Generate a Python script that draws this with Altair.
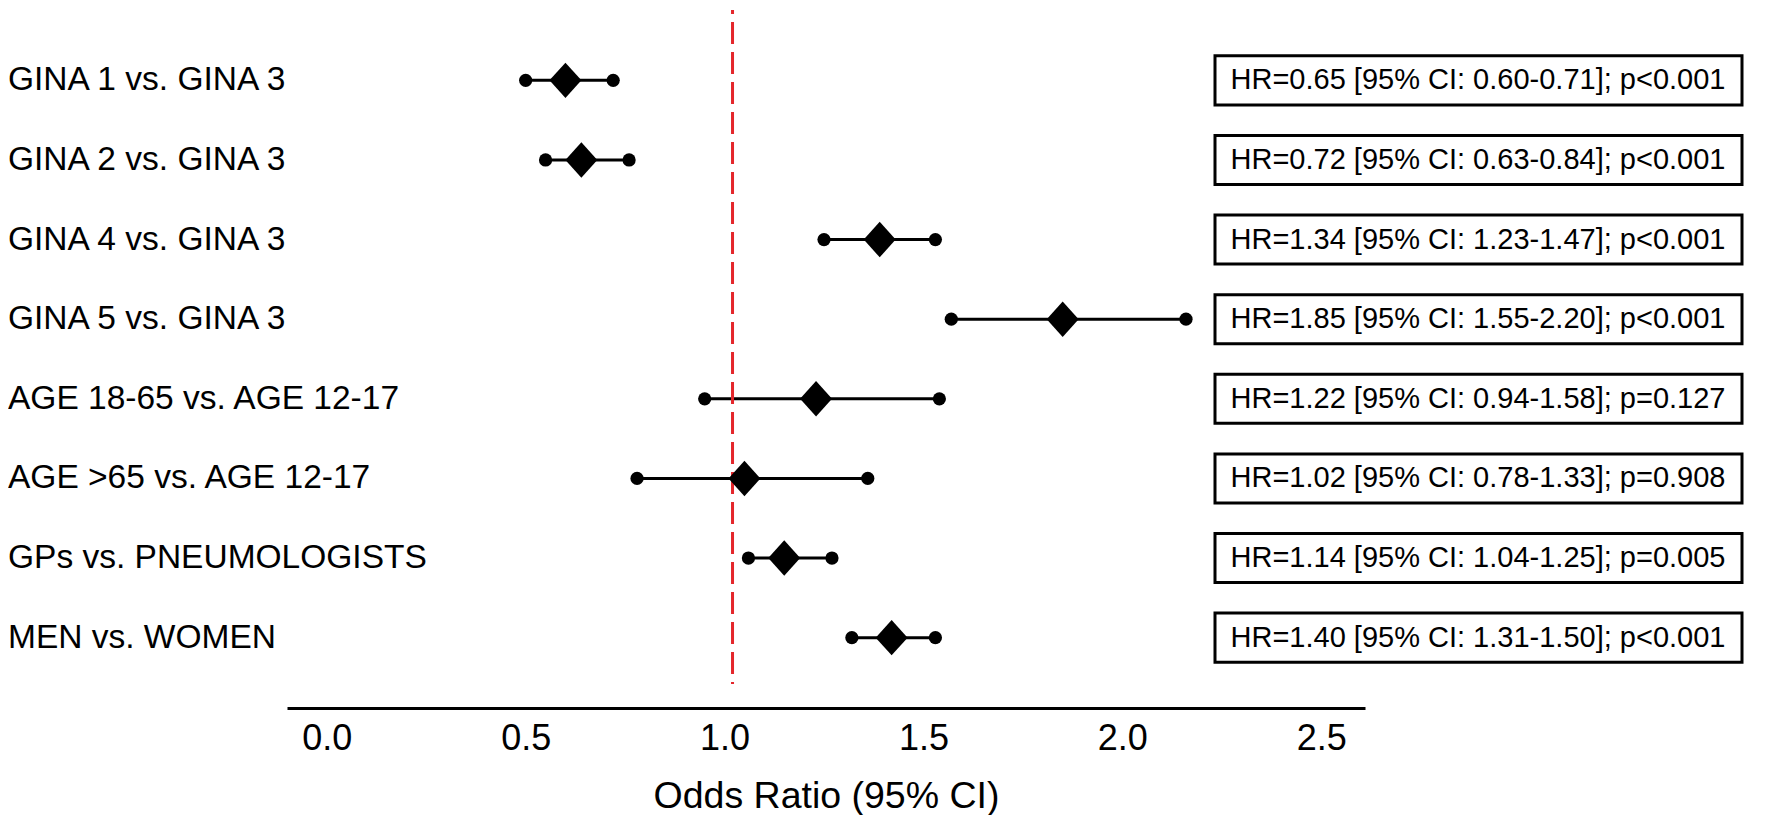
import altair as alt
import pandas as pd

rows = [
    "GINA 1 vs. GINA 3",
    "GINA 2 vs. GINA 3",
    "GINA 4 vs. GINA 3",
    "GINA 5 vs. GINA 3",
    "AGE 18-65 vs. AGE 12-17",
    "AGE >65 vs. AGE 12-17",
    "GPs vs. PNEUMOLOGISTS",
    "MEN vs. WOMEN",
]
est = [0.60, 0.64, 1.39, 1.85, 1.23, 1.05, 1.15, 1.42]
lo = [0.50, 0.55, 1.25, 1.57, 0.95, 0.78, 1.06, 1.32]
hi = [0.72, 0.76, 1.53, 2.16, 1.54, 1.36, 1.27, 1.53]
hr_text = [
    "HR=0.65 [95% CI: 0.60-0.71]; p<0.001",
    "HR=0.72 [95% CI: 0.63-0.84]; p<0.001",
    "HR=1.34 [95% CI: 1.23-1.47]; p<0.001",
    "HR=1.85 [95% CI: 1.55-2.20]; p<0.001",
    "HR=1.22 [95% CI: 0.94-1.58]; p=0.127",
    "HR=1.02 [95% CI: 0.78-1.33]; p=0.908",
    "HR=1.14 [95% CI: 1.04-1.25]; p=0.005",
    "HR=1.40 [95% CI: 1.31-1.50]; p<0.001",
]
ref_value = [1.02]
x_ticks = [0.0, 0.5, 1.0, 1.5, 2.0, 2.5]
x_title = "Odds Ratio (95% CI)"

df = pd.DataFrame({"row": rows, "est": est, "lo": lo, "hi": hi, "label": hr_text})
ref_df = pd.DataFrame({"ref": ref_value})

W, H = 1078, 698
FONT = "Liberation Sans"

xscale = alt.Scale(domain=[-0.1, 2.61], nice=False, zero=False)
yenc = alt.Y(
    "row:N",
    sort=rows,
    scale=alt.Scale(type="band", paddingInner=0.384, paddingOuter=0.576),
    axis=None,
)

xaxis = alt.Axis(
    values=x_ticks,
    format=".1f",
    ticks=False,
    grid=False,
    domainColor="black",
    domainWidth=3,
    labelFontSize=36,
    labelFont=FONT,
    labelColor="black",
    labelPadding=13,
    title=x_title,
    titleFont=FONT,
    titleFontSize=37.5,
    titleFontWeight="normal",
    titleColor="black",
    titlePadding=21,
)

base = alt.Chart(df)

whisk = base.mark_rule(color="black", strokeWidth=3).encode(
    x=alt.X("lo:Q", scale=xscale, axis=xaxis),
    x2="hi:Q",
    y=yenc,
)

refline = alt.Chart(ref_df).mark_rule(
    color="#e4262b", strokeWidth=3, strokeDash=[22, 8], strokeDashOffset=18
).encode(
    x=alt.X("ref:Q", scale=xscale),
    y=alt.value(0),
    y2=alt.value(674),
)

dots = base.transform_fold(["lo", "hi"], as_=["end", "val"]).mark_circle(
    color="black", size=175, opacity=1
).encode(
    x=alt.X("val:Q", scale=xscale),
    y=yenc,
)

diamonds = base.mark_point(
    shape="M-0.9,0L0,-1L0.9,0L0,1Z", filled=True, size=1260, color="black", opacity=1
).encode(
    x=alt.X("est:Q", scale=xscale),
    y=yenc,
)

boxes = base.mark_rect(fill="white", stroke="black", strokeWidth=3).encode(
    y=yenc,
    x=alt.value(928),
    x2=alt.value(1455),
)

box_text = base.mark_text(
    font=FONT, fontSize=29, color="black", align="center", baseline="middle"
).encode(
    y=yenc,
    x=alt.value(1191),
    text="label:N",
)

row_labels = base.mark_text(
    font=FONT, fontSize=33.5, color="black", align="left", baseline="middle"
).encode(
    y=yenc,
    x=alt.value(-279),
    text="row:N",
)

chart = (
    alt.layer(whisk, refline, dots, diamonds, boxes, box_text, row_labels)
    .properties(width=W, height=H, padding=0, background="white")
    .configure_view(stroke=None)
)

chart.save("out.html", embed_options={"renderer": "svg", "actions": False})
